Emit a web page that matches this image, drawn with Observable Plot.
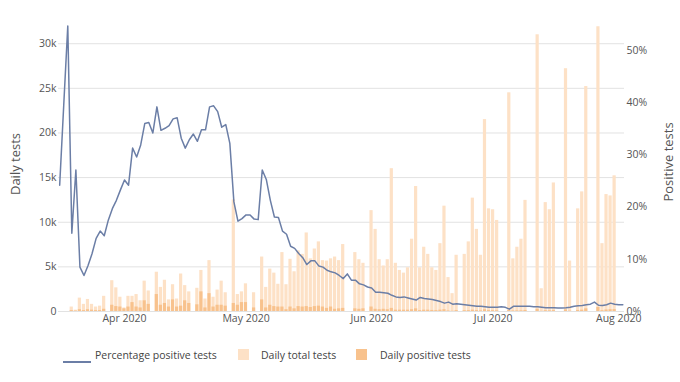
<!DOCTYPE html>
<html><head><meta charset="utf-8">
<script src="https://cdn.jsdelivr.net/npm/d3@7"></script>
<script src="https://cdn.jsdelivr.net/npm/@observablehq/plot@0.6"></script>
<style>
body{margin:0;background:#fff;font-family:"Open Sans",sans-serif;}
#wrap{position:relative;width:680px;height:382px;overflow:hidden;}
.leg{position:absolute;font-size:10.5px;color:#444;white-space:nowrap;line-height:14px;}
.sw{position:absolute;}
</style></head><body><div id="wrap"></div>
<script>
// Days covered: 16 Mar 2020 .. 2 Aug 2020 (one entry per day)
const firstDay = "2020-03-16";
const lastDay = "2020-08-02";

// Daily total tests (null = no report that day)
const totalTests = [
  // Mar 16-31
  null, null, null, 500, 150, 1500, 800, 1350, 800, 500, 600, 1700, null, 3450, 2650, 1600,
  // Apr 1-30
  400, 1700, 1700, 1900, 1200, 3400, 2300, null, 4400, 2700, 3500, 1300, 3000, 1400, 4200,
  2900, 2200, null, 2600, 4600, 1400, 5700, 1600, 2400, 3400, 2100, null, 12500, 1900, 2200,
  // May 1-31
  3100, null, 2100, null, 6100, 2700, 4750, 4300, 3050, 6600, 3000, 5850, 4450, 6800, 6400,
  8800, 5900, 7000, 7800, 5700, 5650, 5900, 6100, 5700, 7500, null, null, 6600, 5800, 5400, null,
  // Jun 1-30
  11300, 9200, 5800, 5100, 5800, 16000, 5400, 4600, 4300, 4900, 8100, 14000, 4900, 7200, 6400,
  4900, 4600, 7600, 11800, 3800, 2000, 6300, null, 6400, 7800, 12700, 9200, 6300, 21500, 11500,
  // Jul 1-31
  11400, 10200, null, null, 24500, 5900, 7200, 8100, 12450, null, null, 31000, 2550, 12200, 11400,
  14400, null, null, 27200, 5650, null, 11500, 13400, 25200, null, null, 31900, 7600, 13100, 12950, 15200,
  // Aug 1-2
  null, null
];

// Daily positive tests
const positiveTests = [
  null, null, null, 100, 50, 200, 100, 200, 150, 100, 100, 250, null, 700, 550, 500,
  300, 500, 1000, 500, 400, 1200, 800, null, 1900, 700, 900, 500, 1300, 500, 600,
  1200, 900, null, 750, 2200, 400, 2000, 500, 700, 700, 600, null, 900, 700, 1000,
  1000, null, 400, null, 1300, 400, 700, 550, 500, 500, 200, 500, 300, 550, 500,
  550, 450, 550, 600, 500, 350, 500, 250, 300, 350, null, null, 300, 250, 300, null,
  500, 250, 200, 250, 200, 350, 150, 150, 150, 150, 200, 300, 100, 150, 150,
  120, 100, 150, 200, 60, 30, 100, null, 90, 100, 150, 100, 70, 200, 100,
  90, 80, null, null, 120, 60, 70, 80, 120, null, null, 250, 20, 90, 80,
  100, null, null, 180, 40, null, 120, 150, 300, null, null, 450, 90, 170, 200, 210,
  null, null
];

// Percentage of positive tests (%)
const pctPositive = [
  24.2, 39.5, 54.7, 15.0, 27.1, 8.5, 6.9, 8.8, 11.1, 14.0, 15.4, 14.5, 17.5, 19.7, 21.3, 23.3,
  25.2, 24.2, 31.3, 29.6, 31.9, 36.0, 36.2, 34.2, 39.2, 34.7, 35.1, 35.6, 36.9, 37.1, 33.2,
  31.3, 32.9, 34.0, 32.6, 34.8, 34.8, 39.2, 39.4, 38.3, 35.3, 35.8, 32.2, 21.0, 17.3, 17.8,
  18.5, 18.5, 17.7, 17.6, 27.1, 25.3, 21.3, 18.1, 18.0, 15.4, 14.8, 12.5, 12.1, 11.1, 10.3,
  9.0, 9.7, 9.7, 8.7, 8.5, 7.9, 7.6, 7.4, 6.9, 6.3, 7.2, 6.0, 6.0, 5.3, 5.1, 4.7,
  4.5, 3.7, 3.7, 3.6, 3.5, 3.1, 2.8, 2.7, 2.8, 2.6, 2.4, 2.2, 2.7, 2.5, 2.4,
  2.3, 2.1, 1.9, 1.6, 1.8, 1.4, 1.5, 1.4, 1.3, 1.2, 1.1, 1.0, 1.0, 0.9, 0.8,
  0.8, 0.8, 0.9, 0.8, 0.45, 1.0, 1.0, 1.0, 1.0, 1.0, 0.9, 0.9, 0.8, 0.7, 0.7,
  0.7, 0.65, 0.65, 0.7, 0.8, 1.0, 1.1, 1.15, 1.3, 1.4, 1.8, 1.2, 1.15, 1.3, 1.6, 1.4,
  1.3, 1.3
];

const leftTicks = [0, 5000, 10000, 15000, 20000, 25000, 30000];
const rightTicks = [0, 10, 20, 30, 40, 50];
const monthTicks = ["2020-04-01", "2020-05-01", "2020-06-01", "2020-07-01", "2020-08-01"];
const seriesNames = ["Percentage positive tests", "Daily total tests", "Daily positive tests"];

const C_LINE = "#6b7ea6", C_TOTAL = "#fde1c6", C_POS = "#f8c28d";

// build table
const parse = d3.utcParse("%Y-%m-%d");
const days = d3.utcDay.range(parse(firstDay), d3.utcDay.offset(parse(lastDay), 1));
const data = days.map((date, i) => ({date, total: totalTests[i], positive: positiveTests[i], pct: pctPositive[i]}));

const Y_MAX = 32600;          // left axis top (tests)
const PCT_TO_Y = 584.8;       // 1 % on right axis in left-axis units

const halfBar = d => [d3.utcHour.offset(d.date, -9.6), d3.utcHour.offset(d.date, 9.6)];

const chart = Plot.plot({
  width: 680, height: 340,
  marginLeft: 58, marginRight: 56, marginTop: 20, marginBottom: 29,
  style: {fontFamily: "Open Sans", fontSize: "10.5px", color: "#555", background: "#fff"},
  x: {type: "utc", domain: [d3.utcHour.offset(parse("2020-03-16"), -7), d3.utcHour.offset(parse("2020-08-02"), 10)]},
  y: {domain: [0, Y_MAX]},
  marks: [
    Plot.gridY(leftTicks, {stroke: "#e2e2e2", strokeOpacity: 1}),
    Plot.rectY(data.filter(d => d.total != null), {x1: d => halfBar(d)[0], x2: d => halfBar(d)[1], y: "total", fill: C_TOTAL}),
    Plot.rectY(data.filter(d => d.positive != null), {x1: d => halfBar(d)[0], x2: d => halfBar(d)[1], y: "positive", fill: C_POS}),
    Plot.line(data.filter(d => d.pct != null), {x: "date", y: d => d.pct * PCT_TO_Y, stroke: C_LINE, strokeWidth: 1.5}),
    Plot.axisY(leftTicks, {anchor: "left", tickSize: 0, tickPadding: 2, label: null,
      tickFormat: v => v === 0 ? "0" : (v / 1000) + "k"}),
    Plot.axisY(rightTicks.map(p => p * PCT_TO_Y), {anchor: "right", tickSize: 0, tickPadding: 2, label: null,
      tickFormat: v => Math.round(v / PCT_TO_Y) + "%", textAnchor: "start"}),
    Plot.axisX(monthTicks.map(parse), {tickSize: 0, tickPadding: 3, label: null, tickFormat: d3.utcFormat("%b %Y")}),
    Plot.text(["Daily tests"], {frameAnchor: "left", dx: -43, dy: -2, rotate: -90, textAnchor: "middle", lineAnchor: "middle", fontSize: 13, fill: "#555"}),
    Plot.text(["Positive tests"], {frameAnchor: "right", dx: 44, dy: -4, rotate: -90, textAnchor: "middle", lineAnchor: "middle", fontSize: 13, fill: "#555"})
  ]
});

const wrap = document.getElementById("wrap");
wrap.appendChild(chart);

// legend
function el(cls, css, text) {
  const d = document.createElement("div");
  d.className = cls;
  Object.assign(d.style, css);
  if (text) d.textContent = text;
  wrap.appendChild(d);
}
el("sw", {left: "63px", top: "361px", width: "28px", height: "2px", background: C_LINE});
el("leg", {left: "95px", top: "348px"}, seriesNames[0]);
el("sw", {left: "238px", top: "349px", width: "11px", height: "11px", background: C_TOTAL});
el("leg", {left: "261px", top: "348px"}, seriesNames[1]);
el("sw", {left: "356px", top: "349px", width: "11px", height: "11px", background: C_POS});
el("leg", {left: "380px", top: "348px"}, seriesNames[2]);
</script></body></html>
